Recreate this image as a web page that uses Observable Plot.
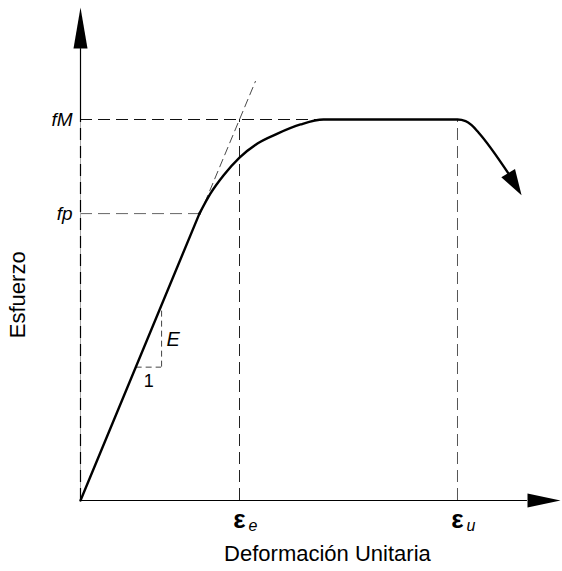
<!DOCTYPE html>
<html><head><meta charset="utf-8">
<script src="https://cdn.jsdelivr.net/npm/d3@7"></script>
<script src="https://cdn.jsdelivr.net/npm/@observablehq/plot@0.6"></script>
<style>body{margin:0;background:#fff} svg{display:block}</style>
</head><body><div id="chart"></div>
<script>
// --- data (strain in units of εe, stress in units of fM) ---
const linearStrain = [0, 0.748];
const linearStress = [0, 0.753];
const curveStrain = [0.748, 0.818, 0.899, 1.0, 1.113, 1.239, 1.384, 1.528, 2.371, 2.422, 2.460, 2.503, 2.689];
const curveStress = [0.753, 0.806, 0.853, 0.900, 0.937, 0.963, 0.987, 1.0, 1.0, 0.996, 0.985, 0.966, 0.860];
const curveArrowTip = {strain: 2.774, stress: 0.801};
const fM = 1.0, fp = 0.753, epsE = 1.0, epsU = 2.371;
const tangentStrain = [0.75, 1.10];
const tangentStress = [0.75, 1.10];
const slopeTri = {x0: 0.35, x1: 0.51, y0: 0.35, y1: 0.50};
const xAxisEnd = 2.811, xAxisTip = 3.019;
const yAxisEnd = 1.186, yAxisTip = 1.294;
const yTickLabels = ["fM", "fp"];
const xTickLabels = [{sym: "ε", sub: "e"}, {sym: "ε", sub: "u"}];
const xTitle = "Deformación Unitaria";
const yTitle = "Esfuerzo";

const W = 562, H = 571;
const xScale = {type: "linear", domain: [0, 1], range: [80, 239]};
const yScale = {type: "linear", domain: [0, 1], range: [500, 119]};
const sx = Plot.scale({x: xScale}), sy = Plot.scale({y: yScale});

const arrowHead = {
  draw(context, l, r) {
    context.moveTo(-r, 0);
    context.lineTo(0, -l);
    context.lineTo(r, 0);
    context.closePath();
  }
};
const last = curveStrain.length - 1;
const ddx = sx.apply(curveArrowTip.strain) - sx.apply(curveStrain[last]);
const ddy = sy.apply(curveArrowTip.stress) - sy.apply(curveStress[last]);
const curveAngle = Math.atan2(ddx, -ddy) * 180 / Math.PI;

const font = "'Liberation Sans', Arial, sans-serif";
const dash = "12,6";

const lin = linearStrain.map((x, i) => ({x, y: linearStress[i]}));
const crv = curveStrain.map((x, i) => ({x, y: curveStress[i]}));
const tan = tangentStrain.map((x, i) => ({x, y: tangentStress[i]}));

const plot = Plot.plot({
  width: W, height: H,
  marginLeft: 0, marginRight: 0, marginTop: 0, marginBottom: 0,
  x: {...xScale, axis: null},
  y: {...yScale, axis: null},
  style: {fontFamily: font, background: "#fff"},
  marks: [
    // dashed guides
    Plot.ruleY([fM], {x1: 0, x2: epsU, stroke: "#111", strokeDasharray: dash, strokeWidth: 1}),
    Plot.ruleY([fp], {x1: 0, x2: linearStrain[1], stroke: "#666", strokeDasharray: dash, strokeWidth: 1}),
    Plot.ruleX([epsE], {y1: 0, y2: fM, stroke: "#222", strokeDasharray: dash, strokeWidth: 1}),
    Plot.ruleX([epsU], {y1: 0, y2: fM, stroke: "#555", strokeDasharray: dash, strokeWidth: 1}),
    Plot.ruleX([0], {y1: 0, y2: fM, stroke: "#aaa", strokeWidth: 1}),
    Plot.ruleX([0], {y1: 0, y2: fM, stroke: "#000", strokeDasharray: dash, strokeWidth: 1.2}),
    Plot.line(tan, {x: "x", y: "y", stroke: "#333", strokeDasharray: "8,5", strokeWidth: 0.9}),
    // slope triangle
    Plot.ruleY([slopeTri.y0], {x1: slopeTri.x0, x2: slopeTri.x1, stroke: "#444", strokeDasharray: "6,4", strokeWidth: 1}),
    Plot.ruleX([slopeTri.x1], {y1: slopeTri.y0, y2: slopeTri.y1, stroke: "#444", strokeDasharray: "6,4", strokeWidth: 1}),
    // axes
    Plot.ruleY([0], {x1: 0, x2: xAxisEnd, stroke: "#000", strokeWidth: 1.2}),
    Plot.ruleX([0], {y1: fM, y2: yAxisEnd, stroke: "#000", strokeWidth: 1.2}),
    Plot.vector([{x: xAxisTip, y: 0}], {x: "x", y: "y", length: 33, r: 7, rotate: 90, anchor: "end", shape: arrowHead, fill: "#000", stroke: "none"}),
    Plot.vector([{x: 0, y: yAxisTip}], {x: "x", y: "y", length: 41, r: 7, rotate: 0, anchor: "end", shape: arrowHead, fill: "#000", stroke: "none"}),
    // stress-strain curve
    Plot.line(lin, {x: "x", y: "y", stroke: "#000", strokeWidth: 2.4, strokeLinecap: "round"}),
    Plot.line(crv, {x: "x", y: "y", curve: "monotone-x", stroke: "#000", strokeWidth: 2.4, strokeLinecap: "round"}),
    Plot.vector([{x: curveArrowTip.strain, y: curveArrowTip.stress}], {x: "x", y: "y", length: 26, r: 8, rotate: curveAngle, anchor: "end", shape: arrowHead, fill: "#000", stroke: "none"}),
    // labels
    Plot.text(yTickLabels, {x: 0, y: [fM, fp], text: d => d, dx: -8, textAnchor: "end", fontStyle: "italic", fontSize: 19, fill: "#000"}),
    Plot.text(["E"], {x: slopeTri.x1, y: (slopeTri.y0 + slopeTri.y1) / 2, text: d => d, dx: 5, dy: 1, textAnchor: "start", fontStyle: "italic", fontSize: 20, fill: "#000"}),
    Plot.text(["1"], {x: (slopeTri.x0 + slopeTri.x1) / 2, y: slopeTri.y0, text: d => d, dy: 14, fontSize: 18, fill: "#000"}),
    Plot.text(xTickLabels, {x: [epsE, epsU], y: 0, text: d => d.sym, dy: 19, fontWeight: "bold", fontSize: 26, fill: "#000"}),
    Plot.text(xTickLabels, {x: [epsE, epsU], y: 0, text: d => d.sub, dx: 9, dy: 25, textAnchor: "start", fontStyle: "italic", fontSize: 16, fill: "#000"}),
    Plot.text([xTitle], {x: [1.553], frameAnchor: "bottom", text: d => d, dy: -11, fontSize: 22, fill: "#000"}),
    Plot.text([yTitle], {y: [0.54], frameAnchor: "left", text: d => d, dx: 17, rotate: -90, textAnchor: "middle", fontSize: 22, fill: "#000"})
  ]
});
document.getElementById("chart").appendChild(plot);
</script>
</body></html>
